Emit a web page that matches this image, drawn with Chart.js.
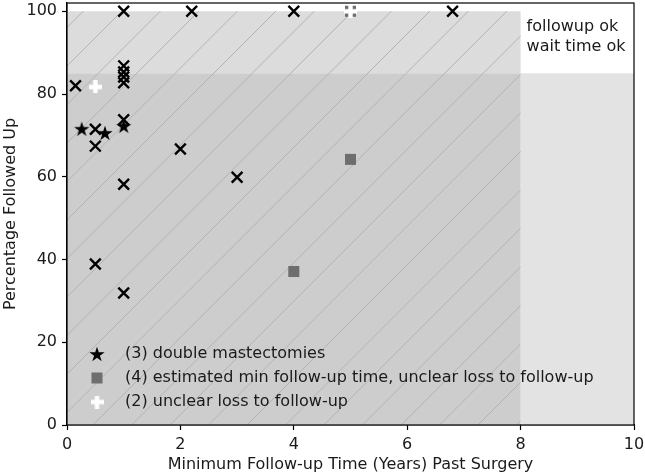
<!DOCTYPE html>
<html>
<head>
<meta charset="utf-8">
<script src="https://cdn.jsdelivr.net/npm/chart.js@4/dist/chart.umd.min.js"></script>
<style>
  html, body { margin: 0; padding: 0; background: #fff; }
  #wrap { width: 645px; height: 476px; }
</style>
</head>
<body>
<div id="wrap"><canvas id="c"></canvas></div>
<script>
// data
const crossX = [0.15, 0.5, 0.5, 0.5, 1, 1, 1, 1, 1, 1, 1, 1, 2, 2.2, 3, 4, 6.8];
const crossY = [82, 71.5, 67.4, 38.9, 100, 86.8, 85.3, 84.1, 82.7, 73.8, 58.2, 31.9, 66.7, 100, 59.9, 100, 100];
const starX = [0.26, 0.67, 1];
const starY = [71.6, 70.6, 72.3];
const squareX = [5, 4, 5];
const squareY = [64.2, 37.1, 100];
const plusX = [0.5, 5];
const plusY = [81.7, 100];
const legendLabels = [
  '(3) double mastectomies',
  '(4) estimated min follow-up time, unclear loss to follow-up',
  '(2) unclear loss to follow-up'
];
const xTicks = [0, 2, 4, 6, 8, 10];
const yTicks = [0, 20, 40, 60, 80, 100];
const waitLimit = 8;     // years
const followLimit = 85;  // percent
const cornerText = ['followup ok', 'wait time ok'];

const FONT = 'DejaVu Sans';
const TXT = '#1a1a1a';

function pts(xs, ys) { return xs.map((v, i) => ({ x: v, y: ys[i] })); }

function starCanvas(r, color) {
  const c = document.createElement('canvas');
  c.width = c.height = Math.ceil(2 * r + 2);
  const g = c.getContext('2d');
  const cx = c.width / 2, cy = c.height / 2 + 0.8, ri = r * 0.382;
  g.beginPath();
  for (let i = 0; i < 10; i++) {
    const a = -Math.PI / 2 + i * Math.PI / 5;
    const rr = i % 2 ? ri : r;
    g.lineTo(cx + rr * Math.cos(a), cy + rr * Math.sin(a));
  }
  g.closePath();
  g.fillStyle = color;
  g.fill();
  return c;
}

function plusCanvas(s, t, color) {
  const c = document.createElement('canvas');
  c.width = c.height = s;
  const g = c.getContext('2d');
  g.fillStyle = color;
  g.fillRect((s - t) / 2, 0, t, s);
  g.fillRect(0, (s - t) / 2, s, t);
  return c;
}

const starImg = starCanvas(8, '#000');
const plusImg = plusCanvas(13, 4.4, '#fff');

const regions = {
  id: 'regions',
  beforeDatasetsDraw(chart) {
    const { ctx, scales: { x, y } } = chart;
    const x0 = x.getPixelForValue(0), x8 = x.getPixelForValue(waitLimit), x10 = x.getPixelForValue(10);
    const y0 = y.getPixelForValue(0), yF = y.getPixelForValue(followLimit), y100 = y.getPixelForValue(100);
    ctx.save();
    ctx.fillStyle = '#e3e3e3';
    ctx.fillRect(x8, yF, x10 - x8, y0 - yF);
    ctx.fillStyle = '#dcdcdc';
    ctx.fillRect(x0, y100, x8 - x0, yF - y100);
    ctx.fillStyle = '#cdcdcd';
    ctx.fillRect(x0, yF, x8 - x0, y0 - yF);
    // hatch over the wait-time region
    ctx.beginPath();
    ctx.rect(x0, y100, x8 - x0, y0 - y100);
    ctx.clip();
    ctx.strokeStyle = '#b3b3b3';
    ctx.lineWidth = 1;
    ctx.beginPath();
    for (let c = 518 - 38.5 * 20; c < 1300; c += 38.5) {
      ctx.moveTo(x0, c - x0);
      ctx.lineTo(x8 + 1, c - x8 - 1);
    }
    ctx.stroke();
    ctx.restore();
  },
  afterDatasetsDraw(chart) {
    const { ctx, chartArea: a, scales: { x } } = chart;
    ctx.save();
    ctx.font = '16px "' + FONT + '"';
    ctx.fillStyle = TXT;
    ctx.textBaseline = 'middle';
    ctx.textAlign = 'left';
    const tx = x.getPixelForValue(waitLimit) + 6;
    ctx.fillText(cornerText[0], tx, a.top + 24);
    ctx.fillText(cornerText[1], tx, a.top + 44);
    // legend
    const mx = a.left + 30, lx = a.left + 58;
    const rows = [a.bottom - 71, a.bottom - 47, a.bottom - 23];
    ctx.drawImage(starImg, mx - starImg.width / 2, rows[0] - starImg.height / 2);
    ctx.fillStyle = '#6e6e6e';
    ctx.fillRect(mx - 5.5, rows[1] - 5.5, 11, 11);
    ctx.drawImage(plusImg, mx - plusImg.width / 2, rows[2] - plusImg.height / 2);
    ctx.fillStyle = TXT;
    legendLabels.forEach((t, i) => ctx.fillText(t, lx, rows[i]));
    // frame
    ctx.strokeStyle = '#000';
    ctx.lineWidth = 1.2;
    ctx.strokeRect(a.left, a.top, a.right - a.left, a.bottom - a.top);
    ctx.restore();
  }
};

new Chart(document.getElementById('c'), {
  type: 'scatter',
  data: {
    datasets: [
      { label: 'x', data: pts(crossX, crossY), pointStyle: 'crossRot', radius: 7.6, order: 4,
        borderColor: '#000', borderWidth: 2.4, backgroundColor: '#000' },
      { label: legendLabels[0], data: pts(starX, starY), pointStyle: starImg, radius: 8, order: 3 },
      { label: legendLabels[1], data: pts(squareX, squareY), pointStyle: 'rect', radius: 7.8, order: 2,
        backgroundColor: '#6e6e6e', borderWidth: 0, borderColor: '#6e6e6e' },
      { label: legendLabels[2], data: pts(plusX, plusY), pointStyle: plusImg, radius: 7, order: 1 }
    ]
  },
  options: {
    responsive: true,
    maintainAspectRatio: false,
    animation: false,
    layout: { autoPadding: false, padding: { top: 3, right: 11, left: 0, bottom: 0 } },
    plugins: { legend: { display: false }, tooltip: { enabled: false } },
    elements: { point: { hoverRadius: 7 } },
    scales: {
      x: {
        type: 'linear', min: 0, max: 10,
        afterBuildTicks: s => { s.ticks = xTicks.map(v => ({ value: v })); },
        afterFit: s => { s.height = 51; s.paddingLeft = 0; s.paddingRight = 0; },
        ticks: { font: { family: FONT, size: 16 }, color: TXT, padding: 5 },
        grid: { drawOnChartArea: false, drawTicks: true, tickLength: 5, tickColor: '#000', tickWidth: 1.2 },
        border: { color: '#000', width: 1.2 },
        title: { display: true, text: 'Minimum Follow-up Time (Years) Past Surgery',
          font: { family: FONT, size: 16 }, color: TXT, padding: { top: 0, bottom: 2 } }
      },
      y: {
        type: 'linear', min: 0, max: 102,
        afterBuildTicks: s => { s.ticks = yTicks.map(v => ({ value: v })); },
        afterFit: s => { s.width = 67; s.paddingTop = 0; s.paddingBottom = 0; },
        ticks: { font: { family: FONT, size: 16 }, color: TXT, padding: 5 },
        grid: { drawOnChartArea: false, drawTicks: true, tickLength: 5, tickColor: '#000', tickWidth: 1.2 },
        border: { color: '#000', width: 1.2 },
        title: { display: true, text: 'Percentage Followed Up',
          font: { family: FONT, size: 16 }, color: TXT, padding: { top: 1, bottom: 0 } }
      }
    }
  },
  plugins: [regions]
});
</script>
</body>
</html>
